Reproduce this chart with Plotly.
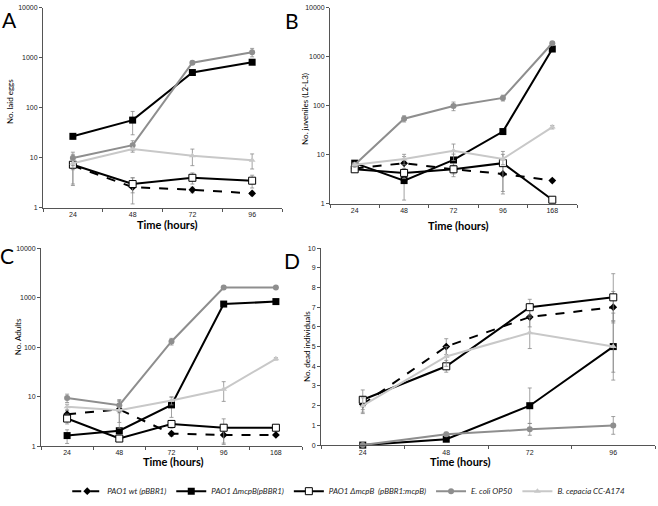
import plotly.graph_objects as go

W, H = 658, 506

hours4 = ["24", "48", "72", "96"]
hours5 = ["24", "48", "72", "96", "168"]

series_names = ["PAO1 wt (pBBR1)", "PAO1 ΔmcpB(pBBR1)", "PAO1 ΔmcpB  (pBBR1:mcpB)",
                "E. coli OP50", "B. cepacia CC-A174"]

# Panel A: laid eggs
wt_A = [7.0, 2.6, 2.3, 1.95]
mut_A = [27, 57, 510, 820]
comp_A = [7.3, 3.0, 4.0, 3.5]
ecoli_A = [10, 18, 800, 1300]
bcep_A = [7.8, 15, 11, 9]
wt_A_err = [4, 1.4, 0.3, 0.2]
mut_A_err = [3, 28, 30, 40]
comp_A_err = [4.5, 1.0, 1.0, 1.0]
ecoli_A_err = [3, 4, 60, 250]
bcep_A_err = [2, 2, 4, 3]

# Panel B: juveniles
wt_B = [5.3, 6.8, 5.1, 4.1, 3.0]
mut_B = [6.8, 3.0, 7.9, 30, 1450]
comp_B = [5.1, 4.3, 5.1, 6.8, 1.22]
ecoli_B = [6.3, 55, 100, 146, 1900]
bcep_B = [6.3, 8.3, 12.2, 8.3, 37]
wt_B_err = [0.5, 2.5, 1.0, 2.5, 0.2]
mut_B_err = [0.5, 1.8, 2.5, 3, 100]
comp_B_err = [0.5, 1.0, 1.5, 5.0, 0.1]
ecoli_B_err = [0.5, 8, 20, 20, 150]
bcep_B_err = [0.5, 2, 4.5, 2, 3]

# Panel C: adults
wt_C = [4.4, 5.5, 1.78, 1.68, 1.68]
mut_C = [1.63, 2.04, 6.8, 740, 830]
comp_C = [3.6, 1.42, 2.8, 2.35, 2.35]
ecoli_C = [9.4, 6.7, 130, 1600, 1600]
bcep_C = [6.2, 5.3, 8.3, 14, 58]
wt_C_err = [0.8, 2.5, 0.2, 0.6, 0.1]
mut_C_err = [0.5, 0.3, 3, 60, 30]
comp_C_err = [0.8, 0.1, 0.5, 1.2, 0.1]
ecoli_C_err = [1.8, 2, 20, 80, 80]
bcep_C_err = [0.8, 3, 1.5, 6, 3]

# Panel D: dead individuals
wt_D = [2.07, 5.0, 6.5, 7.0]
mut_D = [0, 0.3, 2.0, 5.0]
comp_D = [2.3, 4.0, 7.0, 7.5]
ecoli_D = [0, 0.55, 0.8, 1.0]
bcep_D = [2.0, 4.5, 5.7, 5.0]
wt_D_err = [0.4, 0.4, 0.5, 0.8]
mut_D_err = [0, 0.1, 0.9, 1.7]
comp_D_err = [0.5, 0.3, 0.4, 1.2]
ecoli_D_err = [0, 0.1, 0.3, 0.45]
bcep_D_err = [0.4, 0.5, 0.8, 1.3]

styles = [
    dict(line=dict(color="black", width=2, dash="dash"),
         marker=dict(symbol="diamond", size=6, color="black")),
    dict(line=dict(color="black", width=2),
         marker=dict(symbol="square", size=7, color="black")),
    dict(line=dict(color="black", width=2),
         marker=dict(symbol="square", size=7, color="white", line=dict(color="black", width=1))),
    dict(line=dict(color="#8e8e8e", width=2),
         marker=dict(symbol="circle", size=6, color="#8e8e8e")),
    dict(line=dict(color="#c8c8c8", width=2),
         marker=dict(symbol="triangle-up", size=6, color="#c8c8c8")),
]

panels = [
    ("x", "y", hours4, [wt_A, mut_A, comp_A, ecoli_A, bcep_A],
     [wt_A_err, mut_A_err, comp_A_err, ecoli_A_err, bcep_A_err], True),
    ("x2", "y2", hours5, [wt_B, mut_B, comp_B, ecoli_B, bcep_B],
     [wt_B_err, mut_B_err, comp_B_err, ecoli_B_err, bcep_B_err], False),
    ("x3", "y3", hours5, [wt_C, mut_C, comp_C, ecoli_C, bcep_C],
     [wt_C_err, mut_C_err, comp_C_err, ecoli_C_err, bcep_C_err], False),
    ("x4", "y4", hours4, [wt_D, mut_D, comp_D, ecoli_D, bcep_D],
     [wt_D_err, mut_D_err, comp_D_err, ecoli_D_err, bcep_D_err], False),
]

fig = go.Figure()
for xa, ya, cats, vals, errs, legend in panels:
    for i in range(5):
        fig.add_trace(go.Scatter(
            x=cats, y=vals[i], xaxis=xa, yaxis=ya,
            mode="lines+markers", name=series_names[i],
            legendgroup=series_names[i], showlegend=legend,
            legendrank=i + 1,
            error_y=dict(type="data", array=errs[i], visible=True,
                         color="#8a8a8a", thickness=0.8, width=2),
            cliponaxis=False,
            **styles[i]))


def px_x(a, b):
    return [a / W, b / W]


def px_y(top, bottom):
    return [1 - bottom / H, 1 - top / H]


tickfont = dict(family="Liberation Sans, Arial", size=7, color="#222")
common_x = dict(type="category", showline=True, linecolor="#555", linewidth=1,
                ticks="outside", ticklen=3, tickcolor="#555", tickson="boundaries",
                showgrid=False, zeroline=False, tickfont=tickfont, fixedrange=True)
common_y = dict(showline=True, linecolor="#555", linewidth=1, ticks="outside",
                ticklen=3, tickcolor="#555", showgrid=False, zeroline=False,
                tickfont=tickfont, fixedrange=True)

logvals = [1, 10, 100, 1000, 10000]
logtext = ["1", "10", "100", "1000", "10000"]

fig.update_layout(
    width=W, height=H, margin=dict(l=0, r=0, t=0, b=0),
    paper_bgcolor="white", plot_bgcolor="white",
    xaxis=dict(common_x, domain=px_x(43, 282), range=[-0.5, 3.5], anchor="y"),
    yaxis=dict(common_y, domain=px_y(4, 208), type="log", range=[0, 4],
               tickvals=logvals, ticktext=logtext, anchor="x"),
    xaxis2=dict(common_x, domain=px_x(330, 577), range=[-0.5, 4.5], anchor="y2"),
    yaxis2=dict(common_y, domain=px_y(4, 204), type="log", range=[0, 4],
                tickvals=logvals, ticktext=logtext, anchor="x2"),
    xaxis3=dict(common_x, domain=px_x(41, 302), range=[-0.5, 4.5], anchor="y3"),
    yaxis3=dict(common_y, domain=px_y(249, 451), type="log", range=[0, 4],
                tickvals=logvals, ticktext=logtext, anchor="x3"),
    xaxis4=dict(common_x, domain=px_x(321, 655), range=[-0.5, 3.5], anchor="y4"),
    yaxis4=dict(common_y, domain=px_y(249, 450), range=[0, 10], dtick=1, anchor="x4"),
    showlegend=True,
    hovermode=False,
    legend=dict(orientation="h", x=0.53, xanchor="center", y=1 - 497 / H, yanchor="middle",
                font=dict(family="Lato, Open Sans", size=8, style="italic", color="#222"),
                itemwidth=30, tracegroupgap=0, bgcolor="rgba(0,0,0,0)"),
)

annots = []
title_font = dict(family="Lato, Open Sans", size=11, color="black", weight="bold")
for xpx, ypx in [(167, 225), (458, 226), (173, 467), (460, 467)]:
    annots.append(dict(text="<b>Time (hours)</b>", x=xpx / W, y=1 - ypx / H, xref="paper",
                       yref="paper", showarrow=False, font=title_font,
                       xanchor="center", yanchor="middle"))
ytitle_font = dict(family="Lato, Open Sans", size=8, color="black")
for txt, xpx, ypx in [("No. laid eggs", 10, 100), ("No. juveniles (L2-L3)", 305, 107),
                      ("No. Adults", 18, 340), ("No. dead individuals", 307, 350)]:
    annots.append(dict(text=txt, x=xpx / W, y=1 - ypx / H, xref="paper", yref="paper",
                       showarrow=False, textangle=-90, font=ytitle_font,
                       xanchor="center", yanchor="middle"))
letter_font = dict(family="Lato, Open Sans", size=21, color="black")
for txt, xpx, ypx in [("A", 9, 16), ("B", 292, 17), ("C", 7, 257), ("D", 292, 262)]:
    annots.append(dict(text=txt, x=xpx / W, y=1 - ypx / H, xref="paper", yref="paper",
                       showarrow=False, font=letter_font, xanchor="center", yanchor="middle"))
fig.update_layout(annotations=annots)

fig.write_html("out.html", config={"displayModeBar": False},
               post_script="document.body.style.margin='0';document.body.style.overflow='hidden';")
